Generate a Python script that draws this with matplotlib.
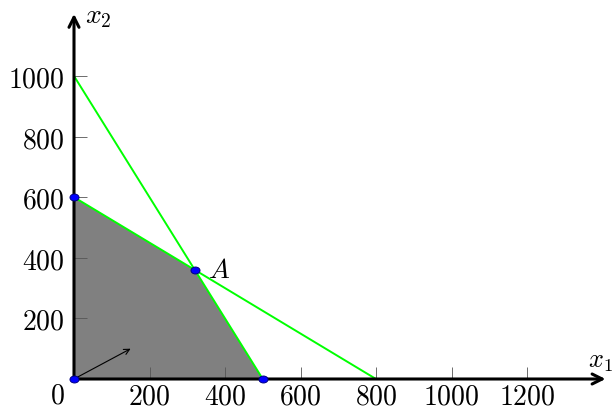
import matplotlib
matplotlib.use("Agg")
import matplotlib.pyplot as plt
from matplotlib.path import Path
from matplotlib.transforms import Affine2D

# constraint lines, given by their end points on the axes
line1_x = [0, 500]
line1_y = [1000, 0]
line2_x = [0, 800]
line2_y = [600, 0]

# corners of the feasible region
region_x = [0, 0, 320, 500]
region_y = [0, 600, 360, 0]

# objective direction
obj_dx, obj_dy = 150, 100

xticks = [200, 400, 600, 800, 1000, 1200]
yticks = [200, 400, 600, 800, 1000]

plt.rcParams['mathtext.fontset'] = 'cm'
plt.rcParams['font.family'] = 'serif'

fig = plt.figure(figsize=(6.16, 4.1), dpi=100)
ax = fig.add_axes([74 / 616, 30 / 410, 528.5 / 616, 363.6 / 410])
ax.set_xlim(0, 1400)
ax.set_ylim(0, 1200)
for s in ax.spines.values():
    s.set_visible(False)

# shaded feasible set
ax.fill(region_x, region_y, color='#808080', lw=0, zorder=1)

# constraints
ax.plot(line1_x, line1_y, color='#00ff00', lw=1.4, zorder=2)
ax.plot(line2_x, line2_y, color='#00ff00', lw=1.4, zorder=2)

# axes with arrows
arrow_kw = dict(arrowstyle='->', lw=2.2, color='black', shrinkA=0, shrinkB=0,
                mutation_scale=18)
ax.annotate('', xy=(1408, 0), xytext=(0, 0), annotation_clip=False,
            arrowprops=arrow_kw, zorder=3)
ax.annotate('', xy=(0, 1205), xytext=(0, 0), annotation_clip=False,
            arrowprops=arrow_kw, zorder=3)

# objective arrow
ax.annotate('', xy=(obj_dx, obj_dy), xytext=(0, 0),
            arrowprops=dict(arrowstyle='->', lw=0.8, color='black', shrinkA=0, shrinkB=0,
                            mutation_scale=10), zorder=4)

# vertices (slightly flattened dots)
ell = Path.unit_circle().transformed(Affine2D().scale(1.3, 1.0))
ax.plot(region_x, region_y, linestyle='none', marker=ell, ms=6.5, mfc='blue',
        mec='#000080', mew=0.7, zorder=5, clip_on=False)

ax.text(355, 360, '$A$', fontsize=20, va='center', ha='left')
ax.text(1362, 62, '$x_1$', fontsize=19, va='center', ha='left', clip_on=False)
ax.text(29, 1200, '$x_2$', fontsize=20, va='center', ha='left', clip_on=False)

ax.set_xticks(xticks)
ax.set_xticklabels(['$%d$' % t for t in xticks])
ax.set_yticks(yticks)
ax.set_yticklabels(['$%d$' % t for t in yticks])
ax.tick_params(direction='in', length=9, width=0.6, color='#555555', labelsize=20)
ax.tick_params(axis='x', pad=2.5)
ax.tick_params(axis='y', pad=7)
ax.annotate('$0$', xy=(0, 0), xytext=(-17, -16), textcoords='offset pixels',
            fontsize=20, ha='center', va='center', annotation_clip=False)

fig.savefig('out.png', dpi=100)
